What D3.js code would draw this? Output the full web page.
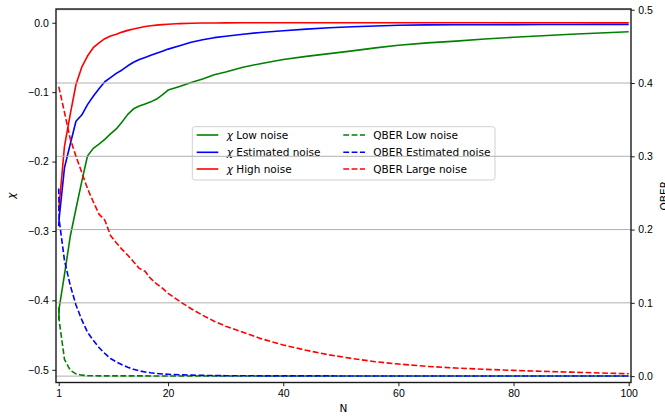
<!DOCTYPE html>
<html>
<head>
  <meta charset="utf-8">
  <title>Chi and QBER vs N</title>
  <script src="https://d3js.org/d3.v7.min.js"></script>
  <style>
    body { margin: 0; background: #fff; }
    svg { font-family: "DejaVu Sans", sans-serif; }
    .tick text { font-size: 10.5px; fill: #000; }
    .tick line { stroke: #000; stroke-width: 0.9; }
    .grid line { stroke: #b0b0b0; stroke-width: 1; }
    .chi { fill: none; stroke-width: 1.6; stroke-linejoin: round; }
    .qber { fill: none; stroke-width: 1.6; stroke-dasharray: 5.8 2.5; stroke-linejoin: round; }
  </style>
</head>
<body>
<script>
// Data
var nValues = [1, 1.1, 2, 3, 4, 5, 6, 7, 8, 9, 10, 11, 12, 13, 14, 15, 16, 17, 18, 19, 20,
  22, 24, 26, 28, 30, 33, 36, 40, 44, 48, 52, 56, 60, 65, 70, 75, 80, 85, 90, 95, 100];

var chiLow = [-0.428, -0.41, -0.363, -0.308, -0.268, -0.229, -0.192, -0.181, -0.175, -0.168, -0.160,
  -0.153, -0.143, -0.132, -0.124, -0.120, -0.117, -0.114, -0.110, -0.104, -0.097,
  -0.092, -0.086, -0.081, -0.075, -0.071, -0.064, -0.059, -0.053, -0.0485, -0.0445,
  -0.0405, -0.0362, -0.0325, -0.029, -0.0265, -0.0235, -0.021, -0.0187, -0.0165, -0.0147, -0.013];

var chiEstimated = [-0.293, -0.28, -0.209, -0.175, -0.142, -0.133, -0.118, -0.106, -0.095, -0.085, -0.079,
  -0.073, -0.068, -0.062, -0.057, -0.053, -0.050, -0.047, -0.044, -0.041, -0.038,
  -0.033, -0.028, -0.0245, -0.0215, -0.0195, -0.0165, -0.014, -0.0115, -0.0092, -0.0072,
  -0.0058, -0.0046, -0.0037, -0.0031, -0.0029, -0.0028, -0.0027, -0.0026, -0.0025, -0.0024, -0.0023];

var chiHigh = [-0.272, -0.262, -0.178, -0.132, -0.089, -0.064, -0.048, -0.036, -0.029, -0.023, -0.019,
  -0.0165, -0.0135, -0.011, -0.009, -0.0072, -0.0055, -0.0043, -0.0034, -0.0027, -0.0021,
  -0.0012, -0.0007, -0.0004, -0.0003, -0.0002, -0.0001, -0.0001, 0, 0, 0,
  0, 0, 0, 0, 0, 0, 0, 0, 0, 0, 0];

var qberLow = [0.094, 0.075, 0.023, 0.008, 0.003, 0.0013, 0.0007, 0.0005, 0.0004, 0.0003, 0.0003,
  0.0003, 0.0003, 0.0003, 0.0003, 0.0003, 0.0003, 0.0002, 0.0002, 0.0002, 0.0002,
  0.0002, 0.0002, 0.0002, 0.0002, 0.0002, 0.0001, 0.0001, 0.0001, 0.0001, 0.0001,
  0.0001, 0.0001, 0.0001, 0.0001, 0.0001, 0.0001, 0.0001, 0.0001, 0.0001, 0.0001, 0.0001];

var qberEstimated = [0.256, 0.212, 0.158, 0.124, 0.097, 0.077, 0.060, 0.049, 0.039, 0.031, 0.024,
  0.0195, 0.0155, 0.012, 0.0095, 0.0072, 0.0057, 0.0046, 0.0037, 0.003, 0.0025,
  0.0018, 0.0013, 0.001, 0.0008, 0.0006, 0.0005, 0.0004, 0.0003, 0.0003, 0.0003,
  0.0002, 0.0002, 0.0002, 0.0002, 0.0002, 0.0002, 0.0001, 0.0001, 0.0001, 0.0001, 0.0001];

var qberLarge = [0.395, 0.392, 0.36, 0.324, 0.300, 0.278, 0.256, 0.238, 0.221, 0.213, 0.192,
  0.182, 0.173, 0.165, 0.156, 0.147, 0.143, 0.133, 0.126, 0.120, 0.113,
  0.102, 0.092, 0.083, 0.075, 0.068, 0.060, 0.0515, 0.0425, 0.0352, 0.029,
  0.024, 0.0197, 0.0165, 0.0133, 0.011, 0.0093, 0.0078, 0.0066, 0.0054, 0.0043, 0.0033];

var xTicks = [1, 20, 40, 60, 80, 100];
var chiTicks = [0, -0.1, -0.2, -0.3, -0.4, -0.5];
var qberTicks = [0, 0.1, 0.2, 0.3, 0.4, 0.5];

var chiSeries = [
  {label: "Low noise", values: chiLow, color: "green"},
  {label: "Estimated noise", values: chiEstimated, color: "blue"},
  {label: "High noise", values: chiHigh, color: "red"}
];
var qberSeries = [
  {label: "QBER Low noise", values: qberLow, color: "green"},
  {label: "QBER Estimated noise", values: qberEstimated, color: "blue"},
  {label: "QBER Large noise", values: qberLarge, color: "red"}
];

// Layout
var W = 665, H = 418;
var margin = {top: 9, right: 34, bottom: 35.5, left: 56};
var width = W - margin.left - margin.right;
var height = H - margin.top - margin.bottom;

var svg = d3.select("body").append("svg")
  .attr("width", W)
  .attr("height", H);

var g = svg.append("g")
  .attr("transform", "translate(" + margin.left + "," + margin.top + ")");

// Scales
var x = d3.scaleLinear().domain([0.53, 100.4]).range([0, width]);
var yChi = d3.scaleLinear().domain([-0.5183, 0.0198]).range([height, 0]);
var yQber = d3.scaleLinear().domain([-0.0087, 0.501]).range([height, 0]);

g.append("clipPath").attr("id", "plotclip")
  .append("rect").attr("width", width).attr("height", height);

// chi lines (first axes)
var chiLine = d3.line()
  .x(function(d, i) { return x(nValues[i]); })
  .y(function(d) { return yChi(d); });

g.append("g").attr("clip-path", "url(#plotclip)")
  .selectAll("path")
  .data(chiSeries)
  .enter().append("path")
  .attr("class", "chi")
  .attr("stroke", function(d) { return d.color; })
  .attr("d", function(d) { return chiLine(d.values); });

// Legend
var legend = g.append("g").attr("transform", "translate(136.3,117.7)");
legend.append("rect")
  .attr("width", 302.7).attr("height", 53.3)
  .attr("rx", 2.5)
  .attr("fill", "#fff").attr("fill-opacity", 0.8)
  .attr("stroke", "#cccccc").attr("stroke-width", 0.9);

var rowY = [8.3, 25.6, 42.3];
chiSeries.forEach(function(s, i) {
  legend.append("line")
    .attr("x1", 4.4).attr("x2", 26)
    .attr("y1", rowY[i]).attr("y2", rowY[i])
    .attr("stroke", s.color).attr("stroke-width", 1.6);
  var t = legend.append("text")
    .attr("x", 34.4).attr("y", rowY[i]).attr("dy", "0.36em")
    .style("font-size", "10.5px");
  t.append("tspan").style("font-style", "italic").text("χ");
  t.append("tspan").text(" " + s.label);
});
qberSeries.forEach(function(s, i) {
  legend.append("line")
    .attr("x1", 151).attr("x2", 172.7)
    .attr("y1", rowY[i]).attr("y2", rowY[i])
    .attr("stroke", s.color).attr("stroke-width", 1.6)
    .attr("stroke-dasharray", "5.8 2.5");
  legend.append("text")
    .attr("x", 181).attr("y", rowY[i]).attr("dy", "0.36em")
    .style("font-size", "10.5px")
    .text(s.label);
});

// Grid of the second axes (drawn over first axes)
g.append("g").attr("class", "grid")
  .selectAll("line")
  .data(qberTicks)
  .enter().append("line")
  .attr("x1", 0).attr("x2", width)
  .attr("y1", function(d) { return yQber(d); })
  .attr("y2", function(d) { return yQber(d); });

// QBER lines (second axes)
var qberLine = d3.line()
  .x(function(d, i) { return x(nValues[i]); })
  .y(function(d) { return yQber(d); });

g.append("g").attr("clip-path", "url(#plotclip)")
  .selectAll("path")
  .data(qberSeries)
  .enter().append("path")
  .attr("class", "qber")
  .attr("stroke", function(d) { return d.color; })
  .attr("d", function(d) { return qberLine(d.values); });

// Axes
var xAxis = g.append("g")
  .attr("transform", "translate(0," + height + ")")
  .call(d3.axisBottom(x).tickValues(xTicks).tickFormat(d3.format("d"))
    .tickSize(3.7).tickSizeOuter(0).tickPadding(3.5));

var leftAxis = g.append("g")
  .call(d3.axisLeft(yChi).tickValues(chiTicks).tickFormat(d3.format(".1f"))
    .tickSize(3.7).tickSizeOuter(0).tickPadding(3.5));

var rightAxis = g.append("g")
  .attr("transform", "translate(" + width + ",0)")
  .call(d3.axisRight(yQber).tickValues(qberTicks).tickFormat(d3.format(".1f"))
    .tickSize(3.7).tickSizeOuter(0).tickPadding(3.5));

[xAxis, leftAxis, rightAxis].forEach(function(a) { a.select(".domain").remove(); });

// Spines
g.append("rect")
  .attr("width", width).attr("height", height)
  .attr("fill", "none")
  .attr("stroke", "#1a1a1a").attr("stroke-width", 1.4);

// Axis labels
svg.append("text")
  .attr("x", margin.left + width / 2).attr("y", 412)
  .attr("text-anchor", "middle")
  .style("font-size", "10.5px")
  .text("N");

svg.append("text")
  .attr("transform", "translate(14.5," + (margin.top + height / 2) + ") rotate(-90)")
  .attr("text-anchor", "middle")
  .style("font-size", "10.5px")
  .style("font-style", "italic")
  .text("χ");

svg.append("text")
  .attr("transform", "translate(667.5," + (margin.top + height / 2) + ") rotate(-90)")
  .attr("text-anchor", "middle")
  .style("font-size", "10.5px")
  .text("QBER");
</script>
</body>
</html>
